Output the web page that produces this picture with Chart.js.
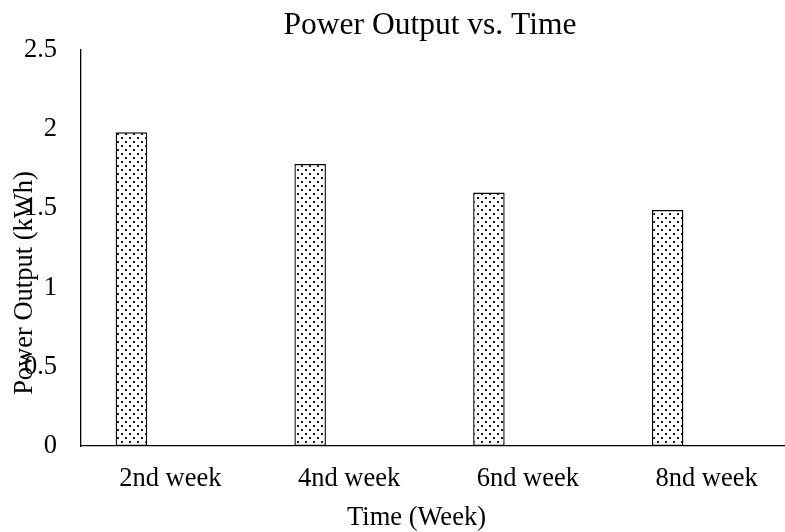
<!DOCTYPE html>
<html>
<head>
<meta charset="utf-8">
<script src="https://cdn.jsdelivr.net/npm/chart.js@4"></script>
<style>
  html, body { margin: 0; padding: 0; background: #fff; overflow: hidden; }
  #wrap { width: 860px; height: 532px; }
</style>
</head>
<body>
<div id="wrap"><canvas id="c" width="860" height="532"></canvas></div>
<script>
const categories = ['2nd week', '4nd week', '6nd week', '8nd week'];
const powerOutput = [1.98, 1.78, 1.60, 1.49];
const emptySeries = [null, null, null, null];
const yTickValues = [0, 0.5, 1, 1.5, 2, 2.5];

const FONT = "'Liberation Serif', 'Times New Roman', serif";

function dotPattern() {
  const t = document.createElement('canvas');
  t.width = 8; t.height = 8;
  const g = t.getContext('2d');
  g.fillStyle = '#ffffff';
  g.fillRect(0, 0, 8, 8);
  g.fillStyle = '#1a1a1a';
  g.fillRect(1, 1, 2, 2);
  g.fillRect(5, 5, 2, 2);
  return g.createPattern(t, 'repeat');
}
const pattern = dotPattern();

function wrapDraw(obj, method, dx, dy) {
  if (!obj || obj['_wrapped_' + method]) return;
  const orig = obj[method];
  obj[method] = function (...args) {
    const ctx = this.ctx;
    ctx.save();
    ctx.translate(dx, dy);
    const r = orig.apply(this, args);
    ctx.restore();
    return r;
  };
  obj['_wrapped_' + method] = true;
}

const titleShift = {
  id: 'titleShift',
  afterLayout(chart) {
    wrapDraw(chart.scales.x, 'drawTitle', -22, 2);
    wrapDraw(chart.scales.y, 'drawTitle', 0, 35);
    wrapDraw(chart.titleBlock, 'draw', 32, 3);
  }
};

new Chart(document.getElementById('c'), {
  type: 'bar',
  data: {
    labels: categories,
    datasets: [
      {
        label: 'Power Output',
        data: powerOutput,
        backgroundColor: pattern,
        borderColor: '#000000',
        borderWidth: 1.4,
        borderSkipped: false,
        categoryPercentage: 0.872,
        barPercentage: 0.404
      },
      {
        label: '',
        data: emptySeries,
        backgroundColor: pattern,
        borderColor: '#000000',
        borderWidth: 1.4,
        categoryPercentage: 0.872,
        barPercentage: 0.404
      }
    ]
  },
  options: {
    responsive: false,
    animation: false,
    layout: { padding: { left: 0, right: 64, top: 0, bottom: 0 } },
    plugins: {
      legend: { display: false },
      tooltip: { enabled: false },
      title: {
        display: true,
        text: 'Power Output vs. Time',
        color: '#000000',
        font: { family: FONT, size: 31.5, weight: 'normal' },
        padding: { top: 4, bottom: 8.2 }
      }
    },
    scales: {
      x: {
        afterFit: (s) => { s.height = 86; },
        grid: { display: false, drawTicks: false },
        border: { display: true, color: '#000000', width: 1.3 },
        ticks: {
          color: '#000000',
          font: { family: FONT, size: 26.5 },
          padding: 17,
          maxRotation: 0
        },
        title: {
          display: true,
          text: 'Time (Week)',
          color: '#000000',
          font: { family: FONT, size: 26.5 },
          padding: { top: 0, bottom: 0 }
        }
      },
      y: {
        min: 0,
        max: 2.5,
        afterBuildTicks: (s) => { s.ticks = yTickValues.map(v => ({ value: v })); },
        afterFit: (s) => { s.width = 81; },
        grid: { display: false, drawTicks: false },
        border: { display: true, color: '#000000', width: 1.3 },
        ticks: {
          color: '#000000',
          font: { family: FONT, size: 26.5 },
          padding: 24,
          callback: (v) => String(v)
        },
        title: {
          display: true,
          text: 'Power Output (kWh)',
          color: '#000000',
          font: { family: FONT, size: 26.5 },
          padding: { top: 9, bottom: 0 }
        }
      }
    }
  },
  plugins: [titleShift]
});
</script>
</body>
</html>
